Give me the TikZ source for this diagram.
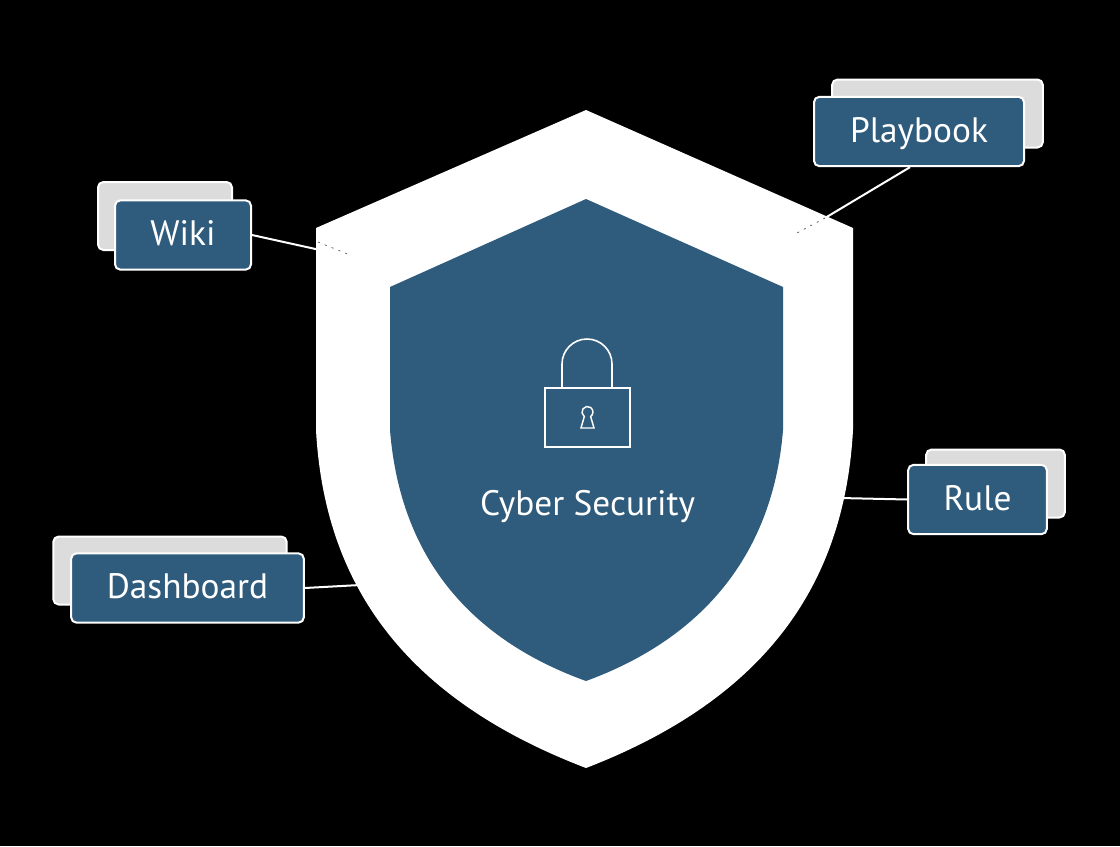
\documentclass[tikz,border=0pt]{standalone}
\usepackage{fontspec}
\setmainfont{PT Sans}
\definecolor{shieldblue}{HTML}{2F5B7C}
\definecolor{backgray}{HTML}{DCDCDC}
\tikzset{
  labeltext/.style={text=white,font=\fontsize{26.5}{30}\selectfont,text height=19pt,text depth=3pt},
  tagbox/.style={labeltext,draw=white,line width=1.5pt,fill=shieldblue,rounded corners=4pt,inner sep=0pt},
  backbox/.style={draw=white,line width=1.5pt,fill=backgray,rounded corners=4pt},
  link/.style={draw=white,line width=1.5pt},
  hidden/.style={draw=black!70,line width=0.5pt,dash pattern=on 1.5pt off 4pt}
}
\begin{document}
\begin{tikzpicture}[x=0.75pt,y=-0.75pt]
\useasboundingbox[fill=black] (0,0) rectangle (1120,846);

\fill[white] (586,110) -- (853,228) -- (853,430) .. controls (845,575) and (775,695) .. (586,768)
  .. controls (395,695) and (324,575) .. (316,430) -- (316,228) -- cycle;
\fill[shieldblue] (586,199) -- (783,287) -- (783,430) .. controls (775,530) and (725,630) .. (586,681)
  .. controls (445,630) and (398,530) .. (390,430) -- (390,287) -- cycle;

\node[backbox,minimum width=100.5pt,minimum height=51pt] (wikiback) at (165,216) {};
\node[backbox,minimum width=158pt,minimum height=51pt] (playbookback) at (937.5,113.5) {};
\node[backbox,minimum width=104pt,minimum height=51pt] (ruleback) at (995.5,483.5) {};
\node[backbox,minimum width=175pt,minimum height=51pt] (dashboardback) at (170,570.5) {};

\node[tagbox,minimum width=102pt,minimum height=52pt] (wiki) at (183,235) {Wiki};
\node[tagbox,minimum width=157.5pt,minimum height=52pt] (playbook) at (919,131.5) {Playbook};
\node[tagbox,minimum width=104pt,minimum height=52pt] (rule) at (977.5,499.5) {Rule};
\node[tagbox,minimum width=174.5pt,minimum height=52pt] (dashboard) at (187.5,588) {Dashboard};

\coordinate (wikiend) at (320,250);
\coordinate (wikiin) at (350,255);
\coordinate (playbookend) at (825,218);
\coordinate (playbookin) at (795,234);
\coordinate (ruleend) at (840,498);
\coordinate (dashboardend) at (360,585);

\draw[link] (wiki.east) -- (wikiend);
\draw[link] (playbook.south) ++(-9,0) -- (playbookend);
\draw[link] (rule.west) -- (ruleend);
\draw[link] (dashboard.east) -- (dashboardend);
\draw[hidden] (wikiend) ++(-2,-8) -- (wikiin);
\draw[hidden] (playbookend) -- (playbookin);

% lock
\draw[white,line width=1.2pt] (545,388) rectangle (630,447);
\draw[white,line width=1.2pt] (562,388) -- (562,364) arc[start angle=180,end angle=360,radius=25] -- (612,388);
\draw[white,line width=1.1pt] (584.3,416.5) arc[start angle=125,end angle=415,radius=5.5]
  -- (594,428) -- (581,428) -- cycle;

\node[labeltext] (title) at (587.5,505.3) {Cyber Security};
\end{tikzpicture}
\end{document}
